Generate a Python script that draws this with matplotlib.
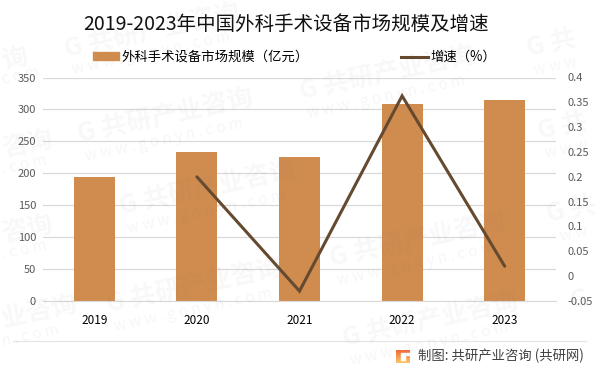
import matplotlib
matplotlib.use('Agg')
import numpy as np
import matplotlib.pyplot as plt
from matplotlib.lines import Line2D
from matplotlib.patches import Patch, Rectangle

plt.rcParams['font.family'] = ['Noto Sans CJK SC', 'DejaVu Sans']

years = ['2019', '2020', '2021', '2022', '2023']
market_size = [194, 233, 225, 308, 314]
growth = [None, 0.2, -0.03, 0.363, 0.02]
left_ticks = [0, 50, 100, 150, 200, 250, 300, 350]
right_ticks = [-0.05, 0, 0.05, 0.1, 0.15, 0.2, 0.25, 0.3, 0.35, 0.4]
right_labels = ['-0.05', '0', '0.05', '0.1', '0.15', '0.2', '0.25', '0.3', '0.35', '0.4']
# 水印：左端像素位置和可见文字
marks = [(65, 50, 'G 共研产业咨询'), (78, 135, 'G 共研产业咨询'), (300, 92, 'G 共研产业咨询'),
         (120, 207, 'G 共研产业咨询'), (330, 259, 'G 共研产业咨询'), (107, 305, 'G 共研产业咨询'),
         (343, 339, 'G 共研产业咨询'), (527, 49, 'G 共'), (538, 132, 'G 共'),
         (547, 215, 'G 共'), (570, 302, 'G'), (2, 62, '询'), (2, 150, '咨询'),
         (2, 235, '咨询'), (2, 320, '业咨询')]
urls = [(72, 70), (85, 157), (307, 114), (127, 229), (337, 281), (114, 327), (350, 361),
        (534, 71), (545, 154), (560, 237), (2, 80), (2, 170), (2, 255), (2, 342)]
url_text = ['w w w . g o n y n . c o m'] * 7 + ['w w w'] * 2 + ['w w', 'c o m', '. c o m', '. c o m', 'n . c o m']

W, H = 601, 373
fig = plt.figure(figsize=(W / 100, H / 100), dpi=100)
ax = fig.add_axes([43 / W, 1 - 301 / H, 513 / W, 223.5 / H])

x = np.arange(len(years))
ax.bar(x, market_size, width=0.4, color='#D08B4E', zorder=2)
ax.set_xlim(-0.5, 4.5)
ax.set_ylim(0, 350)
ax.set_yticks(left_ticks)
ax.set_xticks(x)
ax.set_xticklabels(years, fontsize=8.5, color='black')
ax.tick_params(axis='x', length=0, pad=9)
ax.tick_params(axis='y', length=0, pad=5, labelsize=8, labelcolor='#595959')
ax.grid(axis='y', color='#D9D9D9', lw=0.9, zorder=1)
for s in ['top', 'left', 'right']:
    ax.spines[s].set_visible(False)
ax.spines['bottom'].set_color('#D9D9D9')

ax2 = ax.twinx()
ax2.plot(x[1:], growth[1:], color='#654A30', lw=2.2, solid_capstyle='round', solid_joinstyle='miter')
ax2.set_ylim(-0.05, 0.4)
ax2.set_yticks(right_ticks)
ax2.set_yticklabels(right_labels)
ax2.tick_params(axis='y', length=0, pad=8, labelsize=8, labelcolor='#595959')
for s in ax2.spines:
    ax2.spines[s].set_visible(False)

fig.text(286 / W, 1 - 24 / H, '2019-2023年中国外科手术设备市场规模及增速', fontsize=14,
         ha='center', va='center', color='#111111')

handles = [Patch(color='#D08B4E'), Line2D([0], [0], color='#654A30', lw=2.2)]
fig.legend(handles, ['外科手术设备市场规模（亿元）', '增速（%）'], ncol=2, frameon=False,
           fontsize=9.6, loc='center', bbox_to_anchor=(294.5 / W, 1 - 57 / H),
           handlelength=2.0, handleheight=0.55, handletextpad=0.2, columnspacing=6.9,
           borderpad=0, borderaxespad=0)

# 底部分隔线和来源
fig.add_artist(Line2D([13 / W, 586 / W], [1 - 341 / H, 1 - 341 / H], color='#E6E6E6', lw=0.9))
fig.text(418 / W, 1 - 356 / H, '制图: 共研产业咨询 (共研网)', fontsize=9.6, ha='left', va='center', color='#404040')
logo = fig.add_axes([396 / W, 1 - 363 / H, 14 / W, 13 / H])
logo.imshow(np.linspace(0, 1, 20).reshape(-1, 1), cmap=matplotlib.colors.LinearSegmentedColormap.from_list(
    'logo', ['#F26B3A', '#F9C46B']), aspect='auto', extent=(0, 1, 0, 1))
logo.add_patch(Rectangle((0.35, 0.62), 0.65, 0.12, color='white'))
logo.add_patch(Rectangle((0.35, 0.25), 0.3, 0.37, color='white'))
logo.axis('off')

# 水印
for px, py, txt in marks:
    fig.text(px / W, 1 - py / H, txt, fontsize=18.5, fontweight='bold', color='#808080', alpha=0.055,
             rotation=12, rotation_mode='anchor', ha='left', va='center', zorder=5)
for (px, py), txt in zip(urls, url_text):
    fig.text(px / W, 1 - py / H, txt, fontsize=11, color='#808080', alpha=0.07,
             rotation=12, rotation_mode='anchor', ha='left', va='center', zorder=5)

fig.savefig('out.png', dpi=100)
